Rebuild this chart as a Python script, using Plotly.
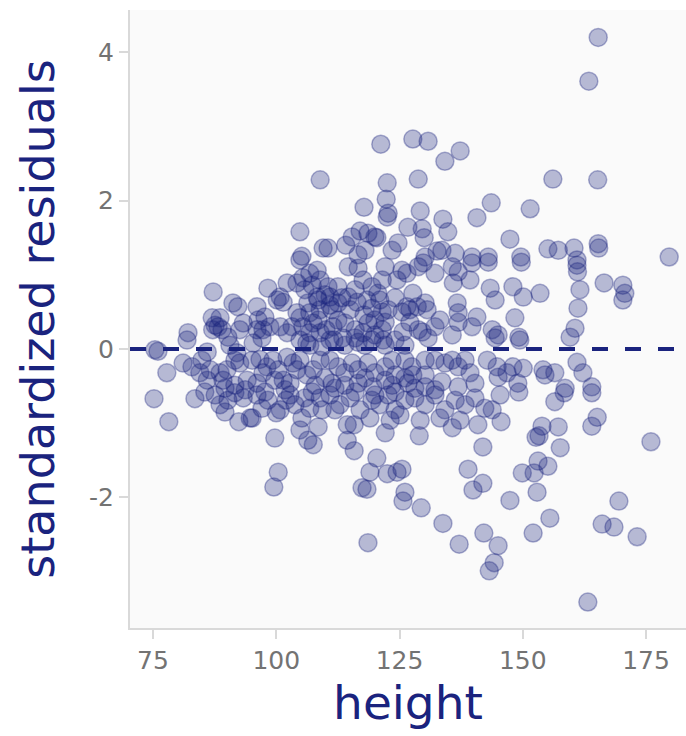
import plotly.graph_objects as go

# Values (height, standardized residual)
height = [
    165.3, 163.4, 127.7, 130.8, 121.2, 137.3, 134.2, 128.8, 156.1, 165.2,
    108.9, 122.5, 122.3, 143.6, 151.5, 117.8, 129.2, 140.7, 133.8, 122.5,
    122.7, 104.8, 134.8, 126.7, 129.6, 130.0, 124.7, 123.5, 147.4, 114.1,
    115.4, 117.0, 118.6, 120.0, 120.4, 110.5, 132.6, 133.6, 136.3, 139.7,
    143.0, 130.2, 118.0, 116.6, 105.2, 109.5, 155.1, 157.2, 160.4, 165.3,
    165.4, 179.7, 149.6, 161.0, 149.7, 161.0, 161.1, 161.6, 166.5, 170.3,
    170.7, 170.3, 161.2, 160.6, 159.6, 153.5, 150.1, 148.0, 148.4, 149.2,
    149.4, 161.0, 162.2, 154.1, 154.5, 156.5, 150.1, 148.0, 149.0, 158.6,
    164.0, 149.2, 158.4, 164.0, 156.5, 165.1, 164.0, 153.9, 157.2, 152.7,
    153.3, 157.6, 176.0, 153.1, 155.1, 149.9, 152.3, 152.9, 147.4, 169.5,
    155.5, 152.1, 166.1, 168.5, 173.2, 163.2, 118.6, 133.8, 137.1, 142.1,
    145.0, 144.2, 143.2, 114.4, 115.8, 122.1, 129.0, 141.9, 143.8, 145.6,
    114.4, 115.8, 120.4, 119.0, 122.5, 124.5, 125.5, 138.9, 141.9, 139.9,
    117.4, 118.4, 126.1, 125.7, 129.4, 75.2, 78.2, 83.5, 99.7, 100.4,
    99.5, 92.4, 94.7, 89.6, 105.2, 106.4, 107.5, 108.5, 100.0, 102.0,
    100.8, 87.2, 75.4, 76.0, 77.8, 82.1, 81.9, 81.1, 82.9, 84.9,
    86.0, 87.0, 87.1, 88.6, 88.2, 87.6, 89.0, 90.2, 90.6, 92.0,
    91.6, 92.6, 90.0, 88.6, 86.6, 84.5, 86.0, 89.2, 91.2, 92.2,
    93.3, 92.6, 96.1, 96.3, 97.7, 98.3, 100.2, 100.8, 101.4, 102.2,
    104.2, 104.8, 105.4, 106.8, 108.3, 108.9, 104.2, 104.8, 103.2, 102.2,
    100.8, 98.7, 97.3, 96.1, 97.1, 95.3, 95.1, 96.7, 98.1, 97.3,
    99.3, 100.4, 102.2, 103.4, 104.8, 104.2, 106.2, 106.8, 105.4, 107.5,
    108.9, 108.3, 106.4, 106.8, 106.2, 101.4, 102.8, 94.1, 96.1, 107.5,
    108.9, 109.3, 108.9, 114.6, 116.6, 122.1, 125.5, 129.8, 132.2, 135.7,
    136.9, 139.7, 143.0, 139.3, 143.4, 144.4, 135.9, 136.7, 136.9, 140.7,
    139.7, 136.9, 135.7, 133.2, 132.2, 130.8, 129.6, 128.8, 125.7, 127.1,
    128.6, 130.2, 130.6, 127.7, 126.5, 124.5, 126.5, 128.8, 121.5, 119.4,
    117.6, 120.6, 118.4, 121.5, 122.1, 120.0, 118.6, 121.5, 121.7, 117.6,
    116.0, 113.9, 112.5, 111.5, 111.3, 112.5, 114.6, 116.0, 112.5, 110.5,
    110.9, 113.5, 110.9, 116.6, 119.4, 143.8, 144.4, 145.0, 110.9, 112.5,
    113.9, 115.4, 116.6, 118.6, 120.0, 122.1, 123.5, 124.1, 126.1, 127.5,
    127.7, 130.2, 132.2, 134.2, 135.7, 136.9, 138.3, 139.3, 142.8, 144.8,
    145.0, 146.8, 111.3, 113.9, 116.6, 119.6, 123.5, 126.7, 130.2, 133.6,
    136.9, 140.3, 110.9, 112.9, 115.0, 117.0, 119.4, 121.0, 122.7, 124.1,
    126.1, 128.1, 130.2, 132.2, 134.2, 136.3, 138.3, 140.3, 142.3, 145.4,
    133.2, 129.2, 125.1, 123.1, 119.0, 111.9, 137.3, 140.9, 135.7, 85.5,
    87.6, 88.6, 90.2, 91.6, 93.3, 96.1, 97.1, 98.3, 102.8, 103.8,
    105.8, 107.3, 109.3, 104.8, 95.1, 105.8, 107.3, 108.5, 109.9, 110.9,
    113.3, 115.0, 116.4, 117.8, 119.4, 121.0, 122.7, 124.1, 125.5, 127.1,
    108.5, 110.1, 111.7, 113.9, 116.0, 118.0, 120.0, 122.1, 124.1, 126.1,
    104.8, 106.8, 107.9, 109.9, 111.9, 116.0, 118.0, 120.0, 122.1, 124.1,
    126.1, 128.1, 130.2, 132.2, 106.8, 108.9, 101.8, 99.7, 97.7, 93.7,
    91.6, 89.6,
]

std_resid = [
    4.20, 3.61, 2.83, 2.80, 2.76, 2.67, 2.53, 2.29, 2.29, 2.28,
    2.28, 2.24, 2.02, 1.97, 1.89, 1.91, 1.86, 1.77, 1.75, 1.78,
    1.83, 1.58, 1.58, 1.64, 1.62, 1.50, 1.43, 1.33, 1.48, 1.40,
    1.51, 1.59, 1.56, 1.51, 1.50, 1.36, 1.32, 1.33, 1.29, 1.24,
    1.24, 1.24, 1.33, 1.27, 1.25, 1.36, 1.35, 1.33, 1.36, 1.42,
    1.36, 1.24, 1.24, 1.20, 1.17, 1.13, 1.04, 0.80, 0.89, 0.86,
    0.75, 0.66, 0.55, 0.28, 0.16, 0.75, 0.70, 0.84, 0.42, 0.16,
    0.12, -0.18, -0.32, -0.28, -0.35, -0.32, -0.26, -0.24, -0.46, -0.53,
    -0.51, -0.58, -0.59, -0.59, -0.71, -0.92, -1.04, -1.04, -1.05, -1.19,
    -1.17, -1.33, -1.25, -1.51, -1.58, -1.67, -1.67, -1.93, -2.04, -2.05,
    -2.28, -2.48, -2.36, -2.40, -2.53, -3.41, -2.61, -2.35, -2.63, -2.48,
    -2.65, -2.88, -2.99, -1.02, -1.02, -1.13, -1.17, -1.32, -0.82, -0.98,
    -1.23, -1.37, -1.47, -1.66, -1.68, -1.66, -1.62, -1.62, -1.81, -1.90,
    -1.87, -1.89, -1.93, -2.05, -2.14, -0.67, -0.98, -0.67, -1.20, -1.66,
    -1.86, -0.98, -0.93, -0.85, -0.93, -1.23, -1.29, -1.05, -0.86, -0.69,
    -0.82, 0.77, -0.01, -0.03, -0.32, 0.22, 0.12, -0.19, -0.24, -0.15,
    -0.04, 0.42, 0.26, 0.42, 0.30, 0.32, 0.26, 0.16, 0.05, -0.05,
    -0.15, -0.19, -0.28, -0.32, -0.28, -0.32, -0.42, -0.42, 0.62, 0.57,
    0.35, 0.26, 0.57, 0.39, 0.43, 0.82, 0.66, 0.70, 0.63, 0.89,
    0.89, 1.20, 0.96, 1.02, 1.06, 0.93, 0.49, 0.42, 0.30, 0.22,
    0.30, 0.30, 0.26, 0.26, 0.15, 0.08, -0.15, -0.14, -0.24, -0.32,
    -0.15, -0.28, -0.11, -0.19, -0.15, -0.28, 0.08, 0.22, 0.30, 0.35,
    0.53, 0.70, 0.62, 0.49, -0.35, -0.42, -0.46, -0.42, -0.46, -0.28,
    -0.15, 0.03, 0.22, 1.11, 1.09, 1.11, 1.06, 1.16, 1.02, 1.11,
    1.04, 1.16, 1.17, 0.93, 0.82, 0.66, 0.89, 0.62, 0.49, 0.43,
    0.30, 0.36, 0.19, 0.39, 0.30, 0.15, 0.23, 0.26, 0.23, 0.53,
    0.57, 0.62, 0.53, 0.75, 0.57, 0.93, 1.02, 1.11, 0.93, 0.84,
    0.93, 0.75, 0.66, 0.50, 0.36, 0.39, 0.35, 0.26, 0.12, 0.22,
    0.26, 0.35, 0.39, 0.30, 0.53, 0.62, 0.70, 0.80, 0.84, 0.84,
    0.70, 0.15, 0.12, 0.09, 0.12, 0.26, 0.15, 0.19, -0.15, -0.24,
    -0.32, -0.19, -0.28, -0.19, -0.32, -0.24, -0.15, -0.35, -0.15, -0.24,
    -0.35, -0.15, -0.15, -0.19, -0.15, -0.24, -0.15, -0.32, -0.15, -0.24,
    -0.38, -0.32, -0.46, -0.49, -0.46, -0.51, -0.49, -0.46, -0.51, -0.44,
    -0.51, -0.46, -0.62, -0.75, -0.66, -0.82, -0.69, -0.75, -0.62, -0.82,
    -0.69, -0.66, -0.75, -0.62, -0.82, -0.69, -0.75, -0.66, -0.80, -0.62,
    -0.93, -0.96, -0.89, -0.96, -0.93, -0.82, -0.96, -1.02, -1.06, -0.58,
    -0.62, -0.75, -0.69, -0.59, -0.66, -0.62, -0.80, -0.69, -0.62, -0.75,
    -0.66, -0.58, -0.82, -1.09, -0.93, 0.80, 0.86, 0.66, 0.73, 0.59,
    0.69, 0.53, 0.63, 0.46, 0.55, 0.66, 0.53, 0.69, 0.50, 0.36,
    0.39, 0.26, 0.12, 0.05, 0.15, 0.05, 0.19, 0.05, 0.12, 0.05,
    0.12, 0.05, -0.49, -0.39, -0.53, -0.58, -0.39, -0.62, -0.42, -0.58,
    -0.39, -0.53, -0.35, -0.55, -0.80, -0.66, -0.55, -0.42, -0.58, -0.55,
    -0.49, -0.53,
]

x_ticks = [75, 100, 125, 150, 175]
y_ticks = [-2, 0, 2, 4]
y_tick_labels = ["-2", "0", "2", "4"]

NAVY = "#1a237e"
GRID = "#d9d9d9"
TICK_TXT = "#737373"
FONT = "DejaVu Sans"

fig = go.Figure()
fig.add_trace(go.Scatter(
    x=height, y=std_resid, mode="markers",
    marker=dict(size=18, color="rgba(26,35,126,0.30)",
                line=dict(color="rgba(26,35,126,0.35)", width=1.5)),
    showlegend=False, hoverinfo="skip",
))
fig.add_hline(y=0, line=dict(color=NAVY, width=4, dash="16px,17px"), layer="above")

axis_common = dict(
    showgrid=False, zeroline=False, showline=True, linecolor=GRID, linewidth=2,
    ticks="outside", ticklen=9, tickwidth=2, tickcolor=GRID,
    tickfont=dict(family=FONT, size=25, color=TICK_TXT),
)

fig.update_layout(
    width=686, height=736,
    margin=dict(l=130, r=0, t=10, b=108),
    paper_bgcolor="white", plot_bgcolor="#fafafa",
    font=dict(family=FONT),
    xaxis=dict(range=[70.33, 183.11], tickvals=x_ticks, **axis_common,
               title=dict(text="height", font=dict(family=FONT, size=47, color=NAVY), standoff=10)),
    yaxis=dict(range=[-3.76, 4.569], tickvals=y_ticks, ticktext=y_tick_labels, **axis_common,
               title=dict(text="standardized residuals", font=dict(family=FONT, size=46, color=NAVY), standoff=20)),
)

fig.write_html("out.html")
